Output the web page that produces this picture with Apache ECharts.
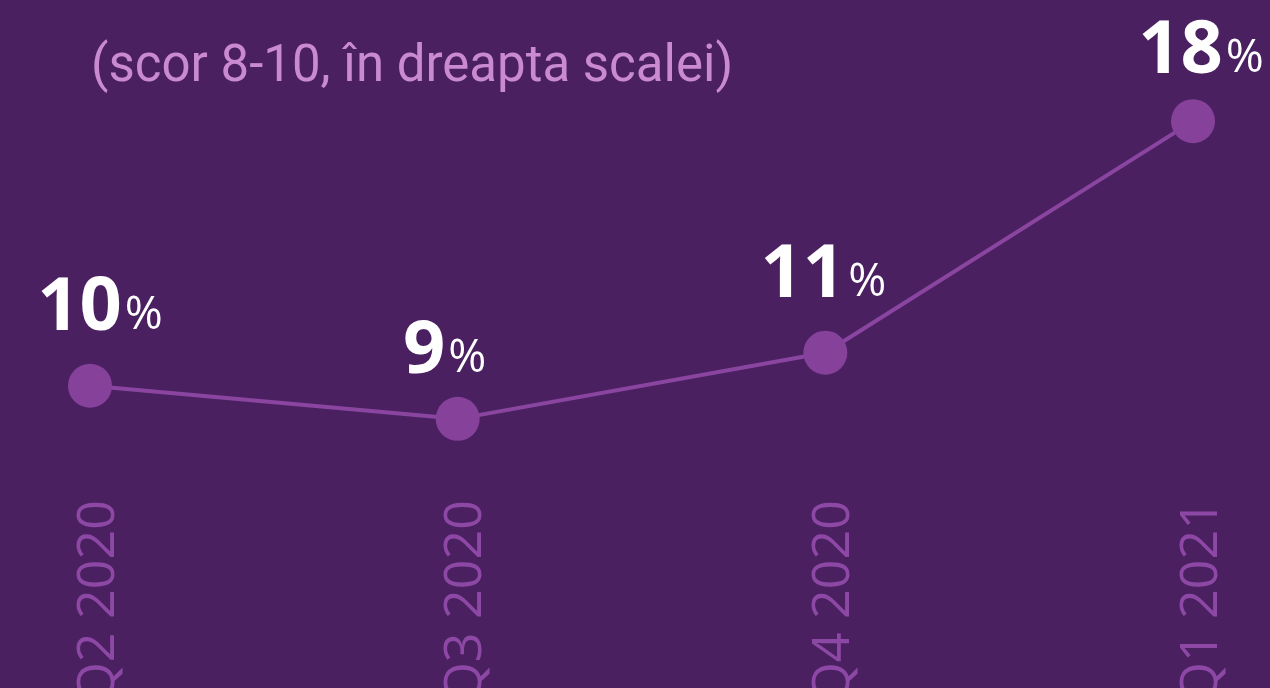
<!DOCTYPE html>
<html>
<head>
<meta charset="utf-8">
<script src="https://cdn.jsdelivr.net/npm/echarts@6/dist/echarts.min.js"></script>
<style>
  html, body { margin: 0; padding: 0; background: #4a2060; }
  #chart { width: 1270px; height: 688px; }
</style>
</head>
<body>
<div id="chart"></div>
<script>
const quarters = ["Q2 2020", "Q3 2020", "Q4 2020", "Q1 2021"];
const shares = [10, 9, 11, 18];
const subtitle = "(scor 8-10, în dreapta scalei)";

const myChart = echarts.init(document.getElementById("chart"));

// small nudges so the value labels sit like in the original layout
const nudge = [[10, 0], [-13, 10], [-2, 0], [8, 8]];

myChart.setOption({
  backgroundColor: "#4a2060",
  title: {
    text: subtitle,
    left: 86,
    top: 38,
    textStyle: {
      color: "#c98ad0",
      fontFamily: "Roboto",
      fontWeight: "normal",
      fontSize: 51,
    },
  },
  grid: {
    left: 90,
    right: 77,
    top: 55,
    bottom: 203,
    outerBoundsMode: "none",
  },
  xAxis: {
    type: "category",
    data: quarters,
    boundaryGap: false,
    axisLine: { show: false },
    axisTick: { show: false },
    axisLabel: {
      rotate: 90,
      margin: 15,
      color: "#8d48a5",
      fontFamily: "Open Sans",
      fontSize: 52,
      verticalAlign: "top",
      lineHeight: 18,
    },
  },
  yAxis: {
    type: "value",
    min: 7,
    max: 20,
    show: false,
  },
  series: [
    {
      type: "line",
      data: shares.map((v, i) => ({ value: v, label: { offset: nudge[i] } })),
      symbol: "circle",
      symbolSize: 44,
      lineStyle: { color: "#8a45a0", width: 4 },
      itemStyle: { color: "#86419b" },
      label: {
        show: true,
        position: "top",
        distance: 18,
        formatter: (p) => "{n|" + p.value + "}{p|%}",
        rich: {
          n: {
            color: "#ffffff",
            fontFamily: "Open Sans",
            fontWeight: "bold",
            fontSize: 74,
          },
          p: {
            color: "#ffffff",
            fontFamily: "Open Sans",
            fontSize: 46,
            padding: [14, 0, 0, 3],
          },
        },
      },
    },
  ],
});
</script>
</body>
</html>
